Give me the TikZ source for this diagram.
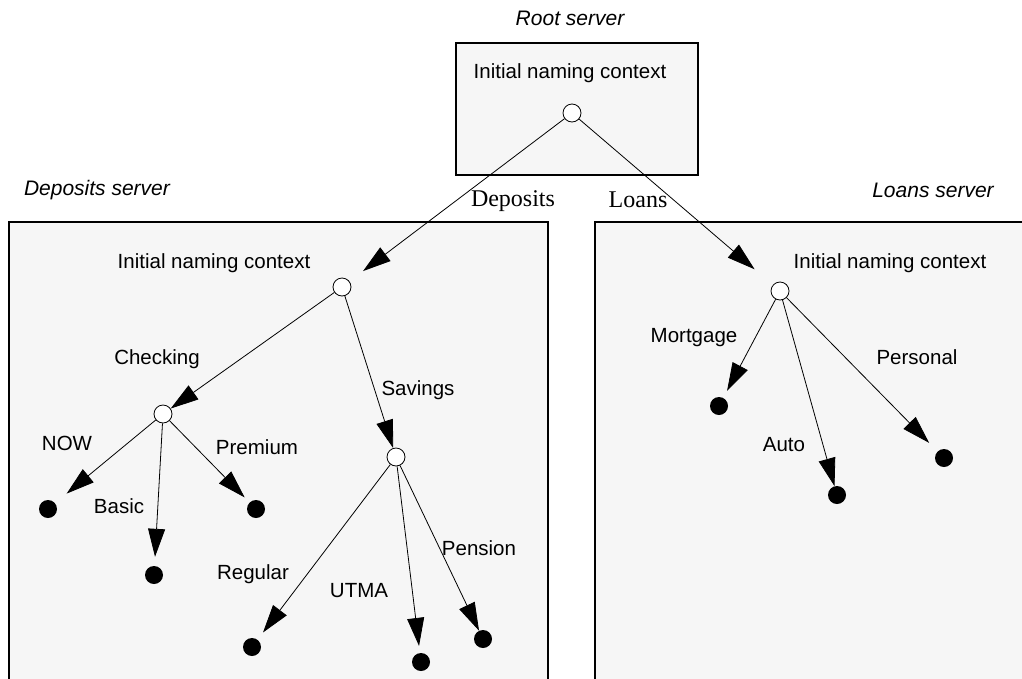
\documentclass[tikz,border=0pt]{standalone}
\usepackage{fontspec}
\setmainfont{Liberation Serif}
\setsansfont{Liberation Sans}
\usetikzlibrary{arrows.meta}

\definecolor{boxgray}{RGB}{246,246,246}

\begin{document}
\begin{tikzpicture}[x=1pt,y=-1pt,
	every node/.style={font=\sffamily\fontsize{20.5}{24}\selectfont},
	server/.style={draw,line width=1.8pt,fill=boxgray,inner sep=0},
	ctx/.style={circle,draw,fill=white,minimum size=18pt,inner sep=0,line width=0.8pt},
	obj/.style={circle,fill=black,minimum size=18pt,inner sep=0},
	title/.style={font=\sffamily\itshape\fontsize{21}{24}\selectfont},
	bind/.style={font=\rmfamily\fontsize{24}{28}\selectfont},
	link/.style={-{Triangle[length=28pt,width=17pt]},line width=0.8pt}]
							\path[use as bounding box,clip] (0,0) rectangle (1022,678);

							% servers
							\node[server,minimum width=242pt,minimum height=132pt] (rootsrv) at (577,109) {};
							\node[server,minimum width=539pt,minimum height=498pt] (depsrv) at (278.5,471) {};
							\node[server,minimum width=465pt,minimum height=498pt] (loansrv) at (827.5,471) {};

							\node[title] (rootttl) at (570,18) {Root server};
							\node[title] (depttl) at (97,190) {Deposits server};
							\node[title] (loanttl) at (933,190) {Loans server};

							% naming contexts
							\node (rootlbl) at (570,73) {Initial naming context};
							\node (deplbl) at (214,263) {Initial naming context};
							\node (loanlbl) at (890,263) {Initial naming context};

							\node[ctx] (root) at (572,113) {};
							\node[ctx] (dep) at (342,287) {};
							\node[ctx] (loan) at (780,291) {};
							\node[ctx] (chk) at (163,414) {};
							\node[ctx] (sav) at (396,457) {};

							% objects
							\node[obj] (now) at (48,509) {};
							\node[obj] (basic) at (154,575) {};
							\node[obj] (prem) at (256,509) {};
							\node[obj] (reg) at (252,647) {};
							\node[obj] (utma) at (421,662) {};
							\node[obj] (pens) at (483,639) {};
							\node[obj] (mort) at (719,406) {};
							\node[obj] (auto) at (837,495) {};
							\node[obj] (pers) at (944,458) {};

							% bindings
							\foreach \from/\to/\gap in {root/dep/17,root/loan/24,dep/chk/0,dep/sav/0,
								chk/now/15,chk/basic/9,chk/prem/7,sav/reg/9,sav/utma/7,sav/pens/0,
								loan/mort/8,loan/auto/0,loan/pers/12}
								\draw[link,shorten >=\gap pt] (\from) -- (\to);

							\node[bind] (bdep) at (513,201) {Deposits};
							\node[bind] (bloan) at (638,200) {Loans};
							\node (bchk) at (157,359) {Checking};
							\node (bsav) at (418,390) {Savings};
							\node (bnow) at (67,443) {NOW};
							\node (bbasic) at (119,506) {Basic};
							\node (bprem) at (257,447) {Premium};
							\node (breg) at (253,574) {Regular};
							\node (butma) at (359,591) {UTMA};
							\node (bpens) at (479,548) {Pension};
							\node (bmort) at (694,338) {Mortgage};
							\node (bauto) at (784,445) {Auto};
							\node (bpers) at (917,357) {Personal};

						\end{tikzpicture}
\end{document}
